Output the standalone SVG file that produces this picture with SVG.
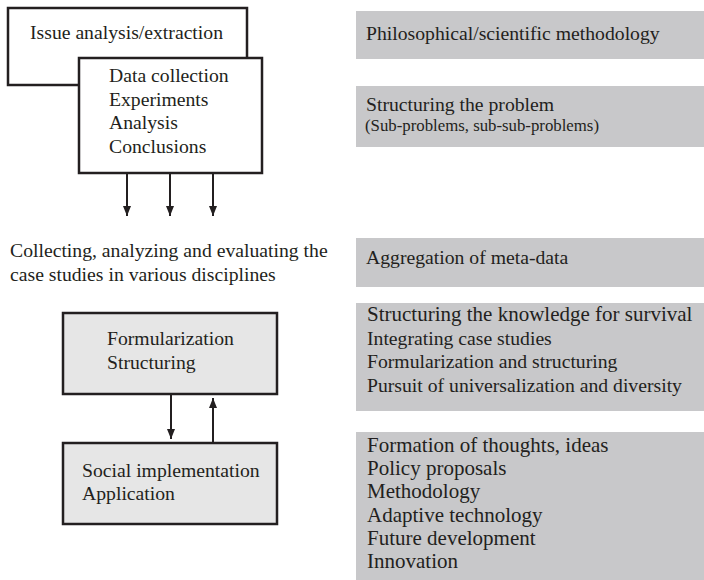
<svg xmlns="http://www.w3.org/2000/svg" width="704" height="580" viewBox="0 0 704 580">
<style>
text{font-family:"Liberation Serif","Times New Roman",serif;font-size:19.7px;fill:#231f20}
.sm{font-size:16.8px}
.lg{font-size:21px}
.box{fill:#fff;stroke:#231f20;stroke-width:2.5}
.lbox{fill:#e6e6e6;stroke:#231f20;stroke-width:2.5}
.gbox{fill:#c8c8ca}
.edge{stroke:#231f20;stroke-width:2;fill:none;marker-end:url(#ah)}
</style>
<defs>
<marker id="ah" viewBox="0 0 10 8" refX="10" refY="4" markerWidth="10" markerHeight="8" markerUnits="userSpaceOnUse" orient="auto">
<path d="M0,0 L10,4 L0,8 Z" fill="#231f20"/>
</marker>
</defs>
<rect width="704" height="580" fill="#fff"/>
<g id="issue">
<rect class="box" x="8" y="8" width="239" height="77"/>
<text x="30" y="39">Issue analysis/extraction</text>
</g>
<g id="data">
<rect class="box" x="79" y="58" width="183" height="115"/>
<text x="109" y="82">Data collection</text>
<text x="109" y="106">Experiments</text>
<text x="109" y="129">Analysis</text>
<text x="109" y="153">Conclusions</text>
</g>
<g id="collecting">
<text x="10" y="257">Collecting, analyzing and evaluating the</text>
<text x="10" y="281">case studies in various disciplines</text>
</g>
<g id="formular">
<rect class="lbox" x="63" y="313" width="214" height="81"/>
<text x="107" y="345">Formularization</text>
<text x="107" y="369">Structuring</text>
</g>
<g id="social">
<rect class="lbox" x="63" y="443" width="214" height="81"/>
<text x="82" y="477">Social implementation</text>
<text x="82" y="500">Application</text>
</g>
<g id="r1">
<rect class="gbox" x="356" y="11" width="348" height="48"/>
<text x="366" y="40">Philosophical/scientific methodology</text>
</g>
<g id="r2">
<rect class="gbox" x="356" y="86" width="348" height="61"/>
<text x="366" y="111">Structuring the problem</text>
<text class="sm" x="365" y="131">(Sub-problems, sub-sub-problems)</text>
</g>
<g id="r3">
<rect class="gbox" x="356" y="238" width="348" height="49"/>
<text x="366" y="264">Aggregation of meta-data</text>
</g>
<g id="r4">
<rect class="gbox" x="356" y="303" width="348" height="108"/>
<text class="lg" x="367" y="321">Structuring the knowledge for survival</text>
<text x="367" y="345">Integrating case studies</text>
<text x="367" y="368">Formularization and structuring</text>
<text x="367" y="392">Pursuit of universalization and diversity</text>
</g>
<g id="r5">
<rect class="gbox" x="356" y="432" width="348" height="148"/>
<text class="lg" x="367" y="452">Formation of thoughts, ideas</text>
<text class="lg" x="367" y="475">Policy proposals</text>
<text class="lg" x="367" y="498">Methodology</text>
<text class="lg" x="367" y="522">Adaptive technology</text>
<text class="lg" x="367" y="545">Future development</text>
<text class="lg" x="367" y="568">Innovation</text>
</g>
<g id="connectors">
<line class="edge" x1="127" y1="174" x2="127" y2="216"/>
<line class="edge" x1="170" y1="174" x2="170" y2="216"/>
<line class="edge" x1="213" y1="174" x2="213" y2="216"/>
<line class="edge" x1="171" y1="395" x2="171" y2="439"/>
<line class="edge" x1="213" y1="442" x2="213" y2="398"/>
</g>
</svg>
